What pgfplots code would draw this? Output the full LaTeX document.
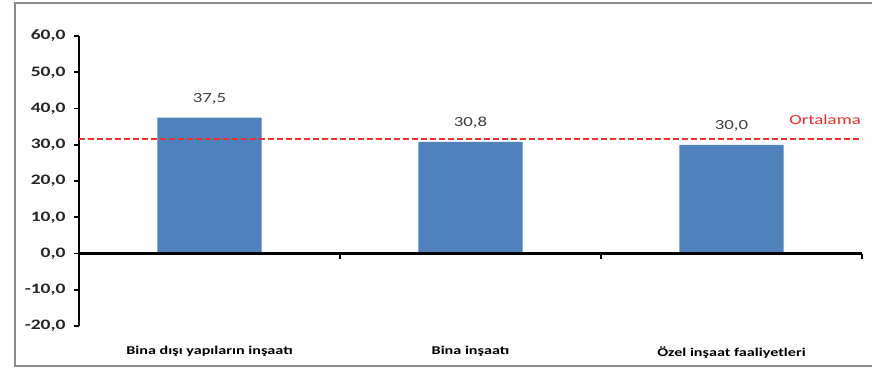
\documentclass[border=0pt]{standalone}
\usepackage{pgfplots}
\pgfplotsset{compat=1.18}
\usepackage{fontspec}
\setmainfont{Carlito}[FakeStretch=1.35]
\definecolor{barblue}{HTML}{4F81BD}
\definecolor{avgred}{HTML}{F0302A}
\definecolor{framegray}{HTML}{8C8C8C}
\begin{document}
\begin{tikzpicture}[x=1bp,y=1bp]
\useasboundingbox (0,0) rectangle (872,368);
\fill[white] (0,0) rectangle (872,368);
\draw[framegray, line width=1.5bp] (15,2) rectangle (880,365);
\begin{axis}[
  at={(79bp,42bp)}, anchor=south west,
  scale only axis, width=783bp, height=290bp,
  xmin=-0.5, xmax=2.5, ymin=-20, ymax=60,
  axis y line*=left, axis x line*=bottom,
  x axis line style={draw=none},
  y axis line style={line width=2.2bp, black},
  ytick={-20,-10,...,60},
  tick align=outside, major tick length=5bp,
  major y tick style={line width=1.6bp, black},
  xtick={0,1,2}, major x tick style={draw=none},
  xticklabels={Bina dışı yapıların inşaatı, Bina inşaatı, Özel inşaat faaliyetleri},
  xticklabel style={font=\fontsize{12}{14}\selectfont\bfseries, yshift=-12bp},
  yticklabel style={font=\fontsize{14.5}{16}\selectfont\bfseries, text=black!85, xshift=-5bp},
  /pgf/number format/.cd, fixed, fixed zerofill, precision=1, use comma, assume math mode=true,
  /pgfplots/.cd,
  clip=false,
]
\addplot[ybar, bar width=0.4, fill=barblue, draw=none,
  nodes near coords,
  nodes near coords style={font=\fontsize{14}{16}\selectfont, text=black!75, yshift=10bp,
    /pgf/number format/.cd, fixed, fixed zerofill, precision=1, use comma, assume math mode=true}]
  coordinates {(0,37.5) (1,30.8) (2,30.0)};
\addplot[color=avgred, line width=2.2bp, dash pattern=on 6bp off 3bp, mark=none] coordinates {(-0.5,31.5) (2.5,31.5)};
\draw[black, line width=2.4bp] (axis cs:-0.5,0) -- (axis cs:2.5,0);
\pgfplotsinvokeforeach{0.5,1.5,2.5}{
  \draw[black, line width=1.6bp] (axis cs:#1,0) -- ([yshift=-5bp]axis cs:#1,0);
}
\node[anchor=south east, text=avgred, font=\fontsize{14}{16}\selectfont, inner sep=1bp, yshift=14bp] at (axis cs:2.5,31.5) {Ortalama};
\end{axis}
\end{tikzpicture}
\end{document}
